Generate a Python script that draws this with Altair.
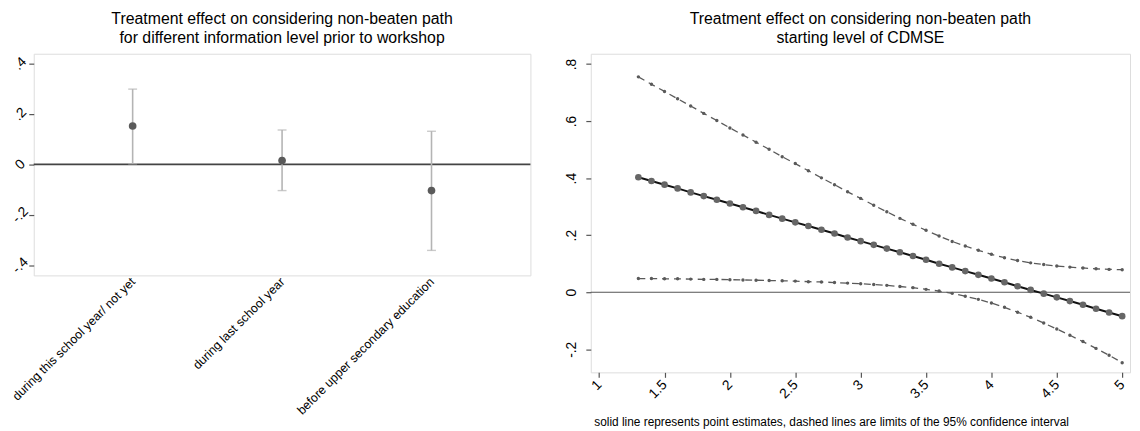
import altair as alt
import pandas as pd

FONT = "Liberation Sans"

# ---- left panel data ----
cat_labels = ["during this school year/ not yet", "during last school year", "before upper secondary education"]
cat_pos = [1, 2, 3]
est_left = [0.152, 0.015, -0.104]
lo_left = [0.002, -0.104, -0.341]
hi_left = [0.298, 0.136, 0.131]

# ---- right panel data ----
cdmse = [1.3, 1.4, 1.5, 1.6, 1.7, 1.8, 1.9, 2.0, 2.1, 2.2, 2.3, 2.4, 2.5, 2.6, 2.7, 2.8, 2.9,
         3.0, 3.1, 3.2, 3.3, 3.4, 3.5, 3.6, 3.7, 3.8, 3.9, 4.0, 4.1, 4.2, 4.3, 4.4, 4.5, 4.6,
         4.7, 4.8, 4.9, 5.0]
point_est = [0.403, 0.390, 0.377, 0.364, 0.350, 0.337, 0.324, 0.311, 0.298, 0.285, 0.271, 0.258,
             0.245, 0.232, 0.219, 0.206, 0.192, 0.179, 0.166, 0.153, 0.140, 0.127, 0.114, 0.100,
             0.087, 0.074, 0.061, 0.048, 0.035, 0.021, 0.008, -0.005, -0.018, -0.031, -0.044,
             -0.058, -0.071, -0.084]
upper_ci = [0.755, 0.729, 0.704, 0.678, 0.653, 0.627, 0.602, 0.576, 0.551, 0.526, 0.501, 0.475,
            0.451, 0.426, 0.401, 0.377, 0.352, 0.329, 0.305, 0.282, 0.259, 0.238, 0.217, 0.197,
            0.178, 0.162, 0.147, 0.133, 0.121, 0.111, 0.103, 0.097, 0.092, 0.088, 0.085, 0.082,
            0.080, 0.079]
lower_ci = [0.048, 0.048, 0.047, 0.047, 0.046, 0.045, 0.045, 0.044, 0.043, 0.042, 0.041, 0.040,
            0.039, 0.037, 0.036, 0.034, 0.032, 0.030, 0.027, 0.024, 0.020, 0.016, 0.010, 0.004,
            -0.004, -0.014, -0.025, -0.038, -0.053, -0.070, -0.088, -0.108, -0.129, -0.151,
            -0.173, -0.197, -0.221, -0.247]

left_y_ticks = [-0.4, -0.2, 0, 0.2, 0.4]
right_y_ticks = [-0.2, 0, 0.2, 0.4, 0.6, 0.8]
right_x_ticks = [1, 1.5, 2, 2.5, 3, 3.5, 4, 4.5, 5]

title_left = ["Treatment effect on considering non-beaten path",
              "for different information level prior to workshop"]
title_right = ["Treatment effect on considering non-beaten path", "starting level of CDMSE"]
footnote = "solid line represents point estimates, dashed lines are limits of the 95% confidence interval"

stata_num = "(datum.value < 0 ? '-' : '') + (datum.value == 0 ? '0' : replace(format(abs(datum.value), '.1f'), '0.', '.'))"

TITLE_SIZE = 16
TICK_SIZE = 14

# ---------------- left chart ----------------
left_df = pd.DataFrame({"pos": cat_pos, "label": cat_labels, "est": est_left,
                        "lo": lo_left, "hi": hi_left})
cat_expr = " : ".join(
    [f"datum.value == {p} ? '{l}'" for p, l in zip(cat_pos[:-1], cat_labels[:-1])]
) + f" : '{cat_labels[-1]}'"

yl_scale = alt.Scale(domain=[-0.44, 0.438], nice=False, zero=False)
xl_scale = alt.Scale(domain=[0.338, 3.662], nice=False, zero=False)

xl_axis = alt.Axis(values=cat_pos, labelExpr=cat_expr, labelAngle=-45, labelAlign="right",
                   labelBaseline="middle", ticks=False, labelPadding=4, domain=False, grid=False,
                   title=None, labelFontSize=12.5, labelLimit=400, labelFont=FONT,
                   labelColor="#000000", labelOverlap=False, labelBound=False)
yl_axis = alt.Axis(values=left_y_ticks, labelExpr=stata_num, labelAngle=-45, labelAlign="center",
                   labelBaseline="middle", labelPadding=9, tickSize=5, tickColor="#555555",
                   tickWidth=1.2, domain=False, grid=False, title=None, labelFontSize=TICK_SIZE,
                   labelFont=FONT, labelColor="#000000", minExtent=24, maxExtent=24)

base_l = alt.Chart(left_df)
zero_l = alt.Chart(pd.DataFrame({"z": [0]})).mark_rule(color="#444444", strokeWidth=1.6).encode(
    y=alt.Y("z:Q", scale=yl_scale, axis=yl_axis))
bars_l = base_l.mark_rule(color="#b4b4b4", strokeWidth=1.6).encode(
    x=alt.X("pos:Q", scale=xl_scale, axis=xl_axis),
    y=alt.Y("lo:Q", scale=yl_scale), y2="hi:Q")
cap_lo = base_l.mark_tick(color="#b4b4b4", thickness=1.4, size=9, orient="horizontal").encode(
    x=alt.X("pos:Q", scale=xl_scale), y=alt.Y("lo:Q", scale=yl_scale))
cap_hi = base_l.mark_tick(color="#b4b4b4", thickness=1.4, size=9, orient="horizontal").encode(
    x=alt.X("pos:Q", scale=xl_scale), y=alt.Y("hi:Q", scale=yl_scale))
pts_l = base_l.mark_circle(color="#5a5a5a", size=60, opacity=1).encode(
    x=alt.X("pos:Q", scale=xl_scale), y=alt.Y("est:Q", scale=yl_scale))

left = alt.layer(zero_l, bars_l, cap_lo, cap_hi, pts_l).properties(
    width=502, height=224,
    title=alt.TitleParams(title_left, fontSize=TITLE_SIZE, font=FONT, fontWeight="normal",
                          anchor="middle", lineHeight=19, offset=8, color="#000000"))

# ---------------- right chart ----------------
right_df = pd.DataFrame({"x": cdmse, "est": point_est, "up": upper_ci, "lo": lower_ci})
yr_scale = alt.Scale(domain=[-0.281, 0.836], nice=False, zero=False)
xr_scale = alt.Scale(domain=[0.936, 5.06], nice=False, zero=False)

xr_axis = alt.Axis(values=right_x_ticks,
                   labelExpr="datum.value % 1 == 0 ? format(datum.value, 'd') : format(datum.value, '.1f')",
                   labelAngle=-45, labelAlign="right", labelBaseline="middle", labelPadding=5,
                   tickSize=5, tickColor="#555555", tickWidth=1.2, domain=False, grid=False,
                   labelFontSize=TICK_SIZE, labelFont=FONT, labelColor="#000000",
                   title=footnote, titleFont=FONT, titleFontSize=12, titleFontWeight="normal",
                   titleColor="#000000", titleAnchor="start", titleAlign="left",
                   titleBaseline="middle", titleX=3, titleY=50)
yr_axis = alt.Axis(values=right_y_ticks, labelExpr=stata_num, labelAngle=-90, labelAlign="center",
                   labelBaseline="middle", labelPadding=14, tickSize=5, tickColor="#555555",
                   tickWidth=1.2, domain=False, grid=False, title=None, labelFontSize=TICK_SIZE,
                   labelFont=FONT, labelColor="#000000", minExtent=30, maxExtent=30)

base_r = alt.Chart(right_df)
zero_r = alt.Chart(pd.DataFrame({"z": [0]})).mark_rule(color="#555555", strokeWidth=1.1).encode(
    y=alt.Y("z:Q", scale=yr_scale, axis=yr_axis))
up_line = base_r.mark_line(color="#5a5a5a", strokeWidth=1.3, strokeDash=[7, 5]).encode(
    x=alt.X("x:Q", scale=xr_scale, axis=xr_axis), y=alt.Y("up:Q", scale=yr_scale))
up_pts = base_r.mark_circle(color="#5a5a5a", size=12, opacity=1).encode(
    x=alt.X("x:Q", scale=xr_scale), y=alt.Y("up:Q", scale=yr_scale))
lo_line = base_r.mark_line(color="#5a5a5a", strokeWidth=1.3, strokeDash=[7, 5]).encode(
    x=alt.X("x:Q", scale=xr_scale), y=alt.Y("lo:Q", scale=yr_scale))
lo_pts = base_r.mark_circle(color="#5a5a5a", size=12, opacity=1).encode(
    x=alt.X("x:Q", scale=xr_scale), y=alt.Y("lo:Q", scale=yr_scale))
est_line = base_r.mark_line(color="#111111", strokeWidth=2).encode(
    x=alt.X("x:Q", scale=xr_scale), y=alt.Y("est:Q", scale=yr_scale))
est_pts = base_r.mark_circle(color="#666666", size=45, opacity=1).encode(
    x=alt.X("x:Q", scale=xr_scale), y=alt.Y("est:Q", scale=yr_scale))

right = alt.layer(zero_r, up_line, up_pts, lo_line, lo_pts, est_line, est_pts).properties(
    width=545, height=322,
    title=alt.TitleParams(title_right, fontSize=TITLE_SIZE, font=FONT, fontWeight="normal",
                          anchor="middle", lineHeight=19, offset=8, color="#000000"))

chart = alt.hconcat(left, right, spacing=28).configure_view(
    stroke="#6e6e6e", strokeWidth=1.5
).configure(padding=0, background="white")

chart.save("out.html", embed_options={"renderer": "svg", "actions": False})
